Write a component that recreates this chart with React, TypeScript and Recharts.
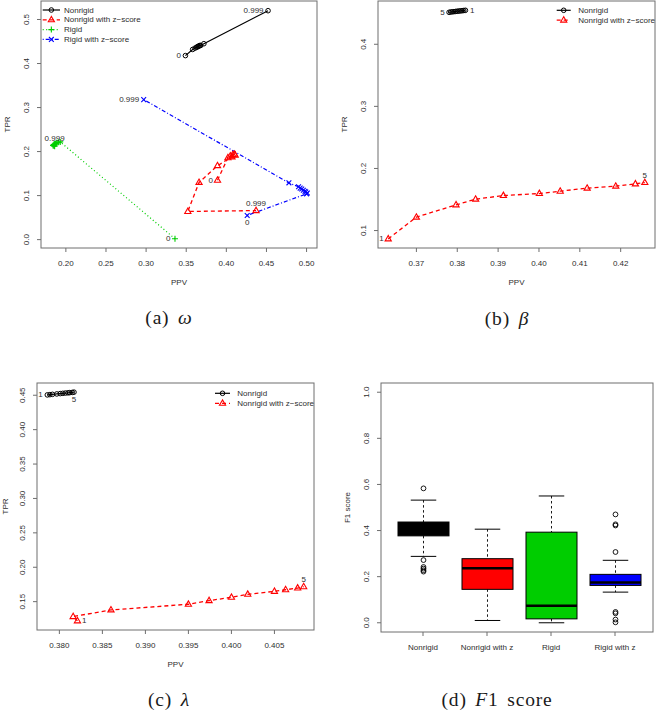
import React from 'react';
import { LineChart, Line, XAxis, YAxis, ComposedChart, Bar } from 'recharts';

const SANS = '"Liberation Sans", Arial, Helvetica, sans-serif';
const SERIF = '"Liberation Serif", "Times New Roman", serif';
const FRAME = '#6e6e6e';
const INK = '#2e2e2e';
const FS = 8;

// (a) omega, swept 0 ... 0.999
const omegaEnds = ['0', '0.999'];
const omegaNonrigidPPV = [0.349, 0.358, 0.361, 0.363, 0.364, 0.365, 0.366, 0.367, 0.368, 0.372, 0.452];
const omegaNonrigidTPR = [0.418, 0.432, 0.435, 0.437, 0.438, 0.439, 0.44, 0.441, 0.441, 0.445, 0.52];
const omegaNonrigidZPPV = [0.389, 0.402, 0.405, 0.408, 0.41, 0.411, 0.407, 0.389, 0.366, 0.352, 0.437];
const omegaNonrigidZTPR = [0.135, 0.186, 0.19, 0.193, 0.194, 0.192, 0.188, 0.168, 0.13, 0.064, 0.066];
const omegaRigidPPV = [0.336, 0.193, 0.191, 0.189, 0.188, 0.187, 0.186, 0.185, 0.184, 0.185, 0.186];
const omegaRigidTPR = [0.002, 0.222, 0.221, 0.22, 0.219, 0.218, 0.217, 0.216, 0.214, 0.213, 0.212];
const omegaRigidZPPV = [0.426, 0.5, 0.501, 0.499, 0.498, 0.496, 0.494, 0.492, 0.49, 0.478, 0.297];
const omegaRigidZTPR = [0.055, 0.104, 0.106, 0.108, 0.11, 0.112, 0.115, 0.117, 0.12, 0.129, 0.318];

// (b) beta, swept 1 ... 5
const betaEnds = ['1', '5'];
const betaNonrigidPPV = [0.382, 0.3816, 0.3812, 0.3808, 0.3804, 0.38, 0.3796, 0.3792, 0.3788, 0.3784, 0.378];
const betaNonrigidTPR = [0.4547, 0.4544, 0.4541, 0.4538, 0.4535, 0.4532, 0.4529, 0.4526, 0.4523, 0.452, 0.4515];
const betaNonrigidZPPV = [0.3631, 0.37, 0.3797, 0.3845, 0.3913, 0.4001, 0.4052, 0.4118, 0.4188, 0.4236, 0.4259];
const betaNonrigidZTPR = [0.0866, 0.1216, 0.1414, 0.1506, 0.1564, 0.1596, 0.1634, 0.1683, 0.1715, 0.1752, 0.1773];

// (c) lambda, swept 1 ... 5
const lambdaEnds = ['1', '5'];
const lambdaNonrigidPPV = [0.3786, 0.3789, 0.3792, 0.3797, 0.3801, 0.3804, 0.3807, 0.381, 0.3812, 0.3815, 0.3817];
const lambdaNonrigidTPR = [0.4505, 0.4509, 0.4513, 0.4519, 0.4524, 0.4528, 0.4532, 0.4535, 0.4538, 0.4541, 0.4545];
const lambdaNonrigidZPPV = [0.3821, 0.3816, 0.386, 0.395, 0.3974, 0.4, 0.4019, 0.405, 0.4063, 0.4077, 0.4084];
const lambdaNonrigidZTPR = [0.1221, 0.1283, 0.138, 0.1462, 0.1515, 0.1563, 0.1607, 0.165, 0.1673, 0.1698, 0.1717];

// (d) F1 score boxplots
const methods = ['Nonrigid', 'Nonrigid with z', 'Rigid', 'Rigid with z'];
const f1WhiskerLow = [0.288, 0.01, 0.0, 0.133];
const f1Q1 = [0.377, 0.145, 0.017, 0.162];
const f1Median = [0.41, 0.237, 0.074, 0.175];
const f1Q3 = [0.437, 0.278, 0.393, 0.21];
const f1WhiskerHigh = [0.532, 0.406, 0.55, 0.271];
const f1Outliers = [
  [0.583, 0.272, 0.242, 0.235, 0.228, 0.222],
  [],
  [],
  [0.47, 0.427, 0.422, 0.307, 0.047, 0.041, 0.014, 0.002],
];

const omegaXTicks = [0.2, 0.25, 0.3, 0.35, 0.4, 0.45, 0.5];
const omegaYTicks = [0, 0.1, 0.2, 0.3, 0.4, 0.5];
const betaXTicks = [0.37, 0.38, 0.39, 0.4, 0.41, 0.42];
const betaYTicks = [0.1, 0.2, 0.3, 0.4];
const lambdaXTicks = [0.38, 0.385, 0.39, 0.395, 0.4, 0.405];
const lambdaYTicks = [0.15, 0.2, 0.25, 0.3, 0.35, 0.4, 0.45];
const f1Ticks = [0, 0.2, 0.4, 0.6, 0.8, 1];

const STYLES: Record<string, any> = {
  nonrigid: { color: '#000000', kind: 'circle', dash: undefined, width: 1.2, name: 'Nonrigid' },
  nonrigidZ: { color: '#ff0000', kind: 'triangle', dash: '4 3', width: 1.3, name: 'Nonrigid with z\u2212score' },
  rigid: { color: '#00cd00', kind: 'plus', dash: '1 2.5', width: 1.2, name: 'Rigid' },
  rigidZ: { color: '#0000ff', kind: 'cross', dash: '1 2 4 2', width: 1.2, name: 'Rigid with z\u2212score' },
};
const BOX_FILLS = ['#000000', '#ff0000', '#00cd00', '#0000ff'];

// page layout: panel origin + plot rectangle in panel coordinates
const LAYOUT = {
  a: { left: 0, top: 0, w: 330, h: 300, pl: 41, pt: 1, pr: 317, pb: 248 },
  b: { left: 330, top: 0, w: 329, h: 300, pl: 48, pt: 1, pr: 325, pb: 248 },
  c: { left: 0, top: 370, w: 330, h: 344, pl: 37, pt: 13, pr: 314, pb: 260 },
  d: { left: 330, top: 370, w: 329, h: 344, pl: 51, pt: 13, pr: 323, pb: 262 },
};

const toPoints = (ppv: number[], tpr: number[], ends: string[]) =>
  ppv.map((x, i) => ({
    x,
    y: tpr[i],
    lab: i === 0 ? ends[0] : i === ppv.length - 1 ? ends[1] : undefined,
    first: i === 0,
  }));

function Mark({ kind, cx, cy, color }: { kind: string; cx: number; cy: number; color: string }) {
  if (kind === 'circle') return <circle cx={cx} cy={cy} r={2.3} fill="none" stroke={color} strokeWidth={1} />;
  if (kind === 'triangle')
    return (
      <polygon
        points={`${cx},${cy - 3.4} ${cx - 3.1},${cy + 2} ${cx + 3.1},${cy + 2}`}
        fill="none"
        stroke={color}
        strokeWidth={1.1}
      />
    );
  if (kind === 'plus')
    return <path d={`M${cx - 3},${cy}H${cx + 3}M${cx},${cy - 3}V${cy + 3}`} stroke={color} strokeWidth={1.1} />;
  return (
    <path
      d={`M${cx - 2.4},${cy - 2.4}L${cx + 2.4},${cy + 2.4}M${cx - 2.4},${cy + 2.4}L${cx + 2.4},${cy - 2.4}`}
      stroke={color}
      strokeWidth={1.1}
    />
  );
}

function PointLabel({ cx, cy, text, side }: { cx: number; cy: number; text: string; side: string }) {
  let x = cx;
  let y = cy;
  let anchor: 'start' | 'middle' | 'end' = 'middle';
  if (side === 'left') { x = cx - 4.5; anchor = 'end'; }
  if (side === 'right') { x = cx + 4.5; anchor = 'start'; }
  if (side === 'above') y = cy - 7.5;
  if (side === 'below') y = cy + 7;
  return (
    <text x={x} y={y} textAnchor={anchor} dominantBaseline="central" fontSize={FS} fontFamily={SANS} fill={INK}>
      {text}
    </text>
  );
}

const makeDot = (style: any, sides: string[]) => (p: any) => {
  const { cx, cy, index, payload } = p;
  if (cx == null || cy == null) return <g key={index} />;
  return (
    <g key={index}>
      <Mark kind={style.kind} cx={cx} cy={cy} color={style.color} />
      {payload.lab && <PointLabel cx={cx} cy={cy} text={payload.lab} side={payload.first ? sides[0] : sides[1]} />}
    </g>
  );
};

function YTick({ p, pl, digits }: { p: any; pl: number; digits: number }) {
  const cx = pl - 14.5;
  return (
    <text
      x={cx}
      y={p.y}
      transform={`rotate(-90 ${cx} ${p.y})`}
      textAnchor="middle"
      dominantBaseline="central"
      fontSize={FS}
      fontFamily={SANS}
      fill={INK}
    >
      {Number(p.payload.value).toFixed(digits)}
    </text>
  );
}

function XTick({ p, pb, digits }: { p: any; pb: number; digits: number | null }) {
  const v = p.payload.value;
  return (
    <text x={p.x} y={pb + 15.3} textAnchor="middle" dominantBaseline="central" fontSize={FS} fontFamily={SANS} fill={INK}>
      {digits == null ? v : Number(v).toFixed(digits)}
    </text>
  );
}

function Overlay({ box, xTitle, yTitle, legend, titleX }: any) {
  const { w, h, pl, pt, pr, pb } = box;
  const midX = (pl + pr) / 2;
  const midY = (pt + pb) / 2;
  const ty = titleX ?? pl - 34;
  return (
    <svg width={w} height={h} style={{ position: 'absolute', left: 0, top: 0, overflow: 'visible', pointerEvents: 'none' }}>
      <rect x={pl} y={pt} width={pr - pl} height={pb - pt} fill="none" stroke={FRAME} strokeWidth={1} />
      {xTitle && (
        <text x={midX} y={pb + 34.7} textAnchor="middle" dominantBaseline="central" fontSize={FS} fontFamily={SANS} fill={INK}>
          {xTitle}
        </text>
      )}
      <text
        x={ty}
        y={midY}
        transform={`rotate(-90 ${ty} ${midY})`}
        textAnchor="middle"
        dominantBaseline="central"
        fontSize={FS}
        fontFamily={SANS}
        fill={INK}
      >
        {yTitle}
      </text>
      {legend &&
        legend.items.map((key: string, i: number) => {
          const s = STYLES[key];
          const y = legend.y + i * legend.step;
          const mid = (legend.x0 + legend.x1) / 2;
          return (
            <g key={key}>
              <line x1={legend.x0} x2={legend.x1} y1={y} y2={y} stroke={s.color} strokeWidth={s.width} strokeDasharray={s.dash} />
              <Mark kind={s.kind} cx={mid} cy={y} color={s.color} />
              <text x={legend.tx} y={y} dominantBaseline="central" fontSize={FS} fontFamily={SANS} fill={INK}>
                {s.name}
              </text>
            </g>
          );
        })}
    </svg>
  );
}

function CurvePanel({ box, domainX, domainY, xTicks, yTicks, xDigits, yDigits, series, legend, titleX }: any) {
  const { left, top, w, h, pl, pt, pr, pb } = box;
  return (
    <div style={{ position: 'absolute', left, top, width: w, height: h }}>
      <LineChart width={w} height={h} margin={{ top: pt, right: w - pr, bottom: 0, left: 0 }}>
        <XAxis
          type="number"
          dataKey="x"
          domain={domainX}
          ticks={xTicks}
          interval={0}
          allowDataOverflow
          axisLine={false}
          tickSize={4}
          tickLine={{ stroke: FRAME }}
          height={h - pb}
          tick={(p: any) => <XTick p={p} pb={pb} digits={xDigits} />}
        />
        <YAxis
          type="number"
          dataKey="y"
          domain={domainY}
          ticks={yTicks}
          interval={0}
          allowDataOverflow
          axisLine={false}
          tickSize={4}
          tickLine={{ stroke: FRAME }}
          width={pl}
          tick={(p: any) => <YTick p={p} pl={pl} digits={yDigits} />}
        />
        {series.map((s: any) => {
          const st = STYLES[s.style];
          return (
            <Line
              key={s.style}
              data={s.data}
              dataKey="y"
              type="linear"
              stroke={st.color}
              strokeWidth={st.width}
              strokeDasharray={st.dash}
              dot={makeDot(st, s.sides)}
              activeDot={false}
              isAnimationActive={false}
            />
          );
        })}
      </LineChart>
      <Overlay box={box} xTitle="PPV" yTitle="TPR" legend={legend} titleX={titleX} />
    </div>
  );
}

function BoxShape(props: any) {
  const { x, y, width, height, payload, index } = props;
  const fill = BOX_FILLS[index];
  const [lo, hi] = payload.range;
  const top = Math.min(y, y + height);
  const bottom = Math.max(y, y + height);
  const py = (v: number) => bottom - ((v - lo) / (hi - lo)) * (bottom - top);
  const cx = x + width / 2;
  const cap = width / 4;
  return (
    <g>
      <line x1={cx} x2={cx} y1={py(hi)} y2={py(payload.q3)} stroke="#000" strokeWidth={0.9} strokeDasharray="2.5 2.5" />
      <line x1={cx} x2={cx} y1={py(payload.q1)} y2={py(lo)} stroke="#000" strokeWidth={0.9} strokeDasharray="2.5 2.5" />
      <line x1={cx - cap} x2={cx + cap} y1={py(hi)} y2={py(hi)} stroke="#000" strokeWidth={1} />
      <line x1={cx - cap} x2={cx + cap} y1={py(lo)} y2={py(lo)} stroke="#000" strokeWidth={1} />
      <rect x={x} y={py(payload.q3)} width={width} height={py(payload.q1) - py(payload.q3)} fill={fill} stroke="#000" strokeWidth={1} />
      <line x1={x} x2={x + width} y1={py(payload.med)} y2={py(payload.med)} stroke="#000" strokeWidth={2.5} />
      {payload.out.map((v: number, i: number) => (
        <circle key={i} cx={cx} cy={py(v)} r={2.4} fill="none" stroke="#000" strokeWidth={0.9} />
      ))}
    </g>
  );
}

function BoxPanel() {
  const box = LAYOUT.d;
  const { left, top, w, h, pl, pt, pr, pb } = box;
  const data = methods.map((name, i) => ({
    name,
    range: [f1WhiskerLow[i], f1WhiskerHigh[i]],
    q1: f1Q1[i],
    med: f1Median[i],
    q3: f1Q3[i],
    out: f1Outliers[i],
  }));
  return (
    <div style={{ position: 'absolute', left, top, width: w, height: h }}>
      <ComposedChart width={w} height={h} data={data} margin={{ top: pt, right: w - pr, bottom: 0, left: 0 }}>
        <XAxis
          dataKey="name"
          type="category"
          interval={0}
          padding={{ left: 10, right: 6 }}
          axisLine={false}
          tickSize={4}
          tickLine={{ stroke: FRAME }}
          height={h - pb}
          tick={(p: any) => <XTick p={p} pb={pb} digits={null} />}
        />
        <YAxis
          type="number"
          domain={[-0.04, 1.04]}
          ticks={f1Ticks}
          interval={0}
          allowDataOverflow
          axisLine={false}
          tickSize={4}
          tickLine={{ stroke: FRAME }}
          width={pl}
          tick={(p: any) => <YTick p={p} pl={pl} digits={1} />}
        />
        <Bar dataKey="range" barSize={51} shape={(p: any) => <BoxShape {...p} />} isAnimationActive={false} />
      </ComposedChart>
      <Overlay box={box} yTitle="F1 score" />
    </div>
  );
}

function Caption({ cx, cy, children }: any) {
  return (
    <div
      style={{
        position: 'absolute',
        left: cx - 100,
        top: cy - 12,
        width: 200,
        height: 24,
        lineHeight: '24px',
        textAlign: 'center',
        fontFamily: SERIF,
        fontSize: 19.5,
        letterSpacing: 0.8,
        wordSpacing: 3,
        color: '#1a1a1a',
        whiteSpace: 'nowrap',
      }}
    >
      {children}
    </div>
  );
}

export default function App() {
  return (
    <div style={{ position: 'absolute', left: 0, top: 0, width: 659, height: 714, background: '#fff', overflow: 'hidden' }}>
      <CurvePanel
        box={LAYOUT.a}
        domainX={[0.169, 0.513]}
        domainY={[-0.019, 0.542]}
        xTicks={omegaXTicks}
        yTicks={omegaYTicks}
        xDigits={2}
        yDigits={1}
        series={[
          { style: 'nonrigid', data: toPoints(omegaNonrigidPPV, omegaNonrigidTPR, omegaEnds), sides: ['left', 'left'] },
          { style: 'nonrigidZ', data: toPoints(omegaNonrigidZPPV, omegaNonrigidZTPR, omegaEnds), sides: ['left', 'above'] },
          { style: 'rigid', data: toPoints(omegaRigidPPV, omegaRigidTPR, omegaEnds), sides: ['left', 'above'] },
          { style: 'rigidZ', data: toPoints(omegaRigidZPPV, omegaRigidZTPR, omegaEnds), sides: ['below', 'left'] },
        ]}
        legend={{ items: ['nonrigid', 'nonrigidZ', 'rigid', 'rigidZ'], x0: 42.7, x1: 60, tx: 64, y: 10, step: 9.8 }}
      />
      <CurvePanel
        box={LAYOUT.b}
        domainX={[0.3606, 0.4284]}
        domainY={[0.0719, 0.4697]}
        xTicks={betaXTicks}
        yTicks={betaYTicks}
        xDigits={2}
        yDigits={1}
        series={[
          { style: 'nonrigid', data: toPoints(betaNonrigidPPV, betaNonrigidTPR, betaEnds), sides: ['right', 'left'] },
          { style: 'nonrigidZ', data: toPoints(betaNonrigidZPPV, betaNonrigidZTPR, betaEnds), sides: ['left', 'above'] },
        ]}
        legend={{ items: ['nonrigid', 'nonrigidZ'], x0: 226.7, x1: 240.7, tx: 248.3, y: 10.3, step: 9.8 }}
      />
      <CurvePanel
        box={LAYOUT.c}
        domainX={[0.3774, 0.4096]}
        domainY={[0.1088, 0.4678]}
        xTicks={lambdaXTicks}
        yTicks={lambdaYTicks}
        xDigits={3}
        yDigits={2}
        titleX={5}
        series={[
          { style: 'nonrigid', data: toPoints(lambdaNonrigidPPV, lambdaNonrigidTPR, lambdaEnds), sides: ['left', 'below'] },
          { style: 'nonrigidZ', data: toPoints(lambdaNonrigidZPPV, lambdaNonrigidZTPR, lambdaEnds), sides: ['right', 'above'] },
        ]}
        legend={{ items: ['nonrigid', 'nonrigidZ'], x0: 215, x1: 230, tx: 237.3, y: 23.3, step: 10 }}
      />
      <BoxPanel />
      <Caption cx={169} cy={318}>(a) <i>ω</i></Caption>
      <Caption cx={507} cy={319}>(b) <i>β</i></Caption>
      <Caption cx={169} cy={700}>(c) <i>λ</i></Caption>
      <Caption cx={497} cy={700}>(d) <i>F</i>1 score</Caption>
    </div>
  );
}
